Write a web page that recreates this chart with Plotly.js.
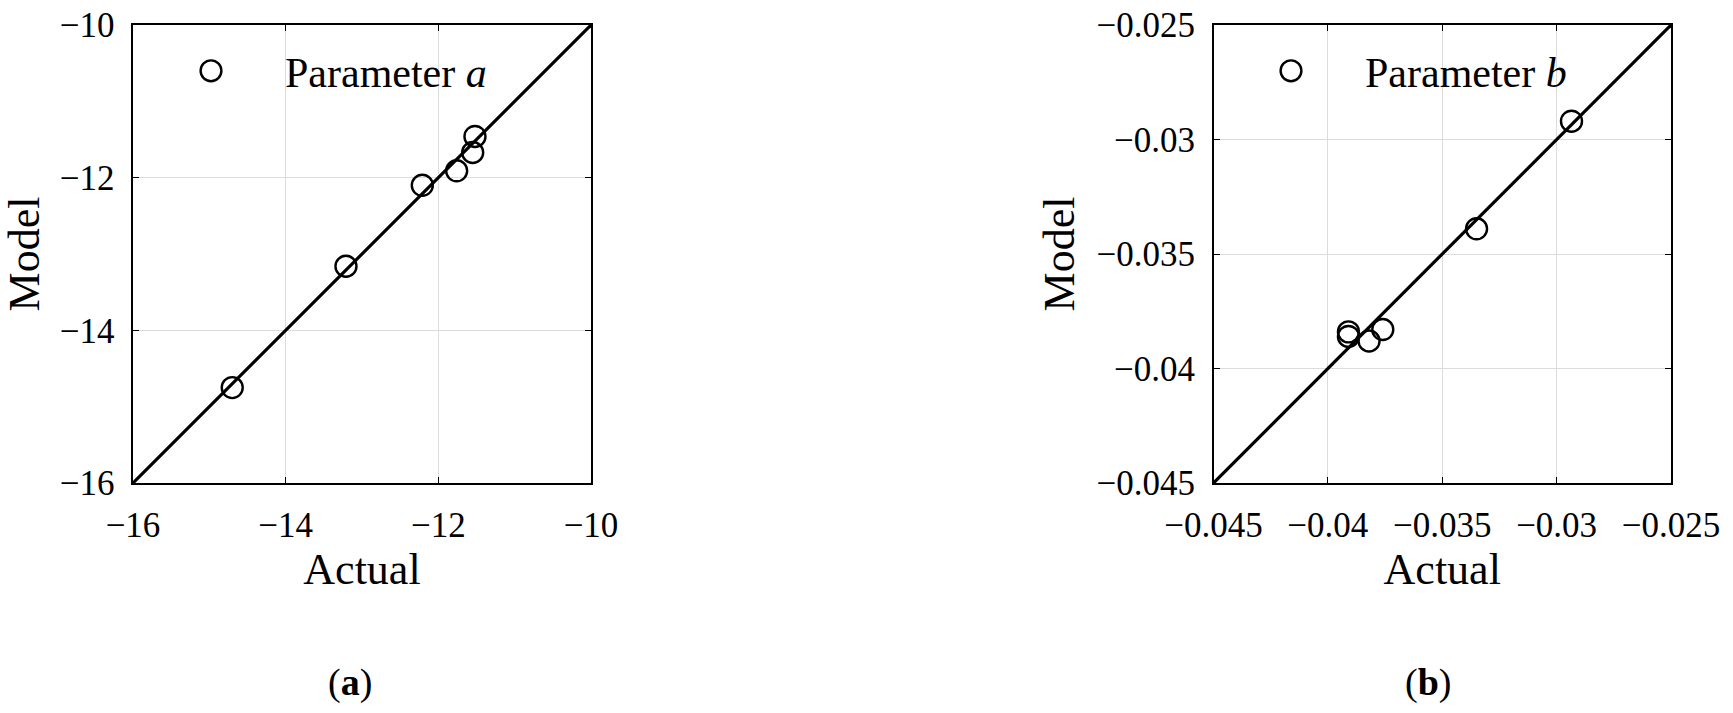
<!DOCTYPE html>
<html>
<head>
<meta charset="utf-8">
<script src="https://cdn.plot.ly/plotly-2.35.2.min.js"></script>
<style>
  html, body {
    margin: 0;
    padding: 0;
    background: #ffffff;
  }
  #chart {
    width: 1733px;
    height: 713px;
  }
</style>
</head>
<body>
<div id="chart"></div>
<script>
const FONT = "Liberation Serif, Times New Roman, serif";

// parameter a
const rangeA = [-16, -10];
const ticksA = [-16, -14, -12, -10];
const tickTextA = ["\u221216", "\u221214", "\u221212", "\u221210"];
const actualA = [-14.70, -13.21, -12.21, -11.76, -11.55, -11.52];
const modelA = [-14.75, -13.16, -12.10, -11.91, -11.67, -11.46];

// parameter b
const rangeB = [-0.045, -0.025];
const ticksB = [-0.045, -0.04, -0.035, -0.03, -0.025];
const tickTextB = ["\u22120.045", "\u22120.04", "\u22120.035", "\u22120.03", "\u22120.025"];
const actualB = [-0.02935, -0.0335, -0.0376, -0.0382, -0.0391, -0.0391];
const modelB = [-0.0292, -0.0339, -0.0383, -0.0388, -0.0384, -0.0386];

const W = 1733;
const H = 713;
const M = { l: 133, r: 62, t: 25, b: 230 };
const PW = W - M.l - M.r;
const PH = H - M.t - M.b;

// pixel -> paper helpers
const px = v => (v - M.l) / PW;
const py = v => (H - M.b - v) / PH;

function markerTrace(x, y, name, xa, ya, legend) {
  return {
    x: x,
    y: y,
    xaxis: xa,
    yaxis: ya,
    type: "scatter",
    mode: "markers",
    name: name,
    legend: legend,
    marker: {
      symbol: "circle-open",
      size: 21,
      color: "#000000",
      line: { width: 2.4, color: "#000000" }
    },
    cliponaxis: false
  };
}

function lineTrace(range, xa, ya) {
  return {
    x: range,
    y: range,
    xaxis: xa,
    yaxis: ya,
    type: "scatter",
    mode: "lines",
    showlegend: false,
    hoverinfo: "skip",
    line: { color: "#000000", width: 3.2 }
  };
}

function axisStyle(range, vals, text, domain, titleText, anchor, standoff) {
  return {
    domain: domain,
    anchor: anchor,
    range: range,
    automargin: false,
    tickmode: "array",
    tickvals: vals,
    ticktext: text,
    tickangle: 0,
    ticks: "inside",
    ticklen: 6,
    tickwidth: 1,
    tickcolor: "#000000",
    showline: true,
    mirror: "ticks",
    linecolor: "#000000",
    linewidth: 1.6,
    showgrid: true,
    gridcolor: "#dcdcdc",
    gridwidth: 1,
    zeroline: false,
    ticklabelstandoff: 10,
    tickfont: { family: FONT, size: 35, color: "#000000" },
    title: {
      text: titleText,
      font: { family: FONT, size: 44, color: "#000000" },
      standoff: standoff
    }
  };
}

const traces = [
  lineTrace(rangeA, "x", "y"),
  markerTrace(actualA, modelA, "Parameter <i>a</i>", "x", "y", "legend"),
  lineTrace(rangeB, "x2", "y2"),
  markerTrace(actualB, modelB, "Parameter <i>b</i>", "x2", "y2", "legend2")
];

const legendBase = {
  xanchor: "left",
  yanchor: "middle",
  bgcolor: "rgba(255,255,255,0)",
  borderwidth: 0,
  itemwidth: 138,
  font: { family: FONT, size: 42, color: "#000000" }
};

function panelLabel(text, x) {
  return {
    text: text,
    xref: "paper",
    yref: "paper",
    x: px(x),
    y: py(682),
    xanchor: "center",
    yanchor: "middle",
    showarrow: false,
    font: { family: FONT, size: 38, color: "#000000" }
  };
}

const layout = {
  width: W,
  height: H,
  margin: M,
  paper_bgcolor: "#ffffff",
  plot_bgcolor: "#ffffff",
  showlegend: true,
  xaxis: axisStyle(rangeA, ticksA, tickTextA, [0, px(591)], "Actual", "y", 0),
  yaxis: axisStyle(rangeA, ticksA, tickTextA, [0, 1], "Model", "x", 8),
  xaxis2: axisStyle(rangeB, ticksB, tickTextB, [px(1213.5), 1], "Actual", "y2", 6),
  yaxis2: axisStyle(rangeB, ticksB, tickTextB, [0, 1], "Model", "x2", 8),
  legend: Object.assign({}, legendBase, { x: px(137), y: py(71) }),
  legend2: Object.assign({}, legendBase, { x: px(1217), y: py(71) }),
  annotations: [
    panelLabel("(<b>a</b>)", 350),
    panelLabel("(<b>b</b>)", 1428)
  ]
};

Plotly.newPlot("chart", traces, layout, { staticPlot: true, displayModeBar: false })
  .then(() => {
    // legend symbols are capped at 16px by plotly, scale them up to match the data markers
    document.querySelectorAll(".legendpoints path.scatterpts").forEach(p => {
      const t = p.getAttribute("transform") || "";
      p.setAttribute("transform", t + " scale(1.3)");
      p.style.strokeWidth = (2.4 / 1.3) + "px";
    });
  });
</script>
</body>
</html>
